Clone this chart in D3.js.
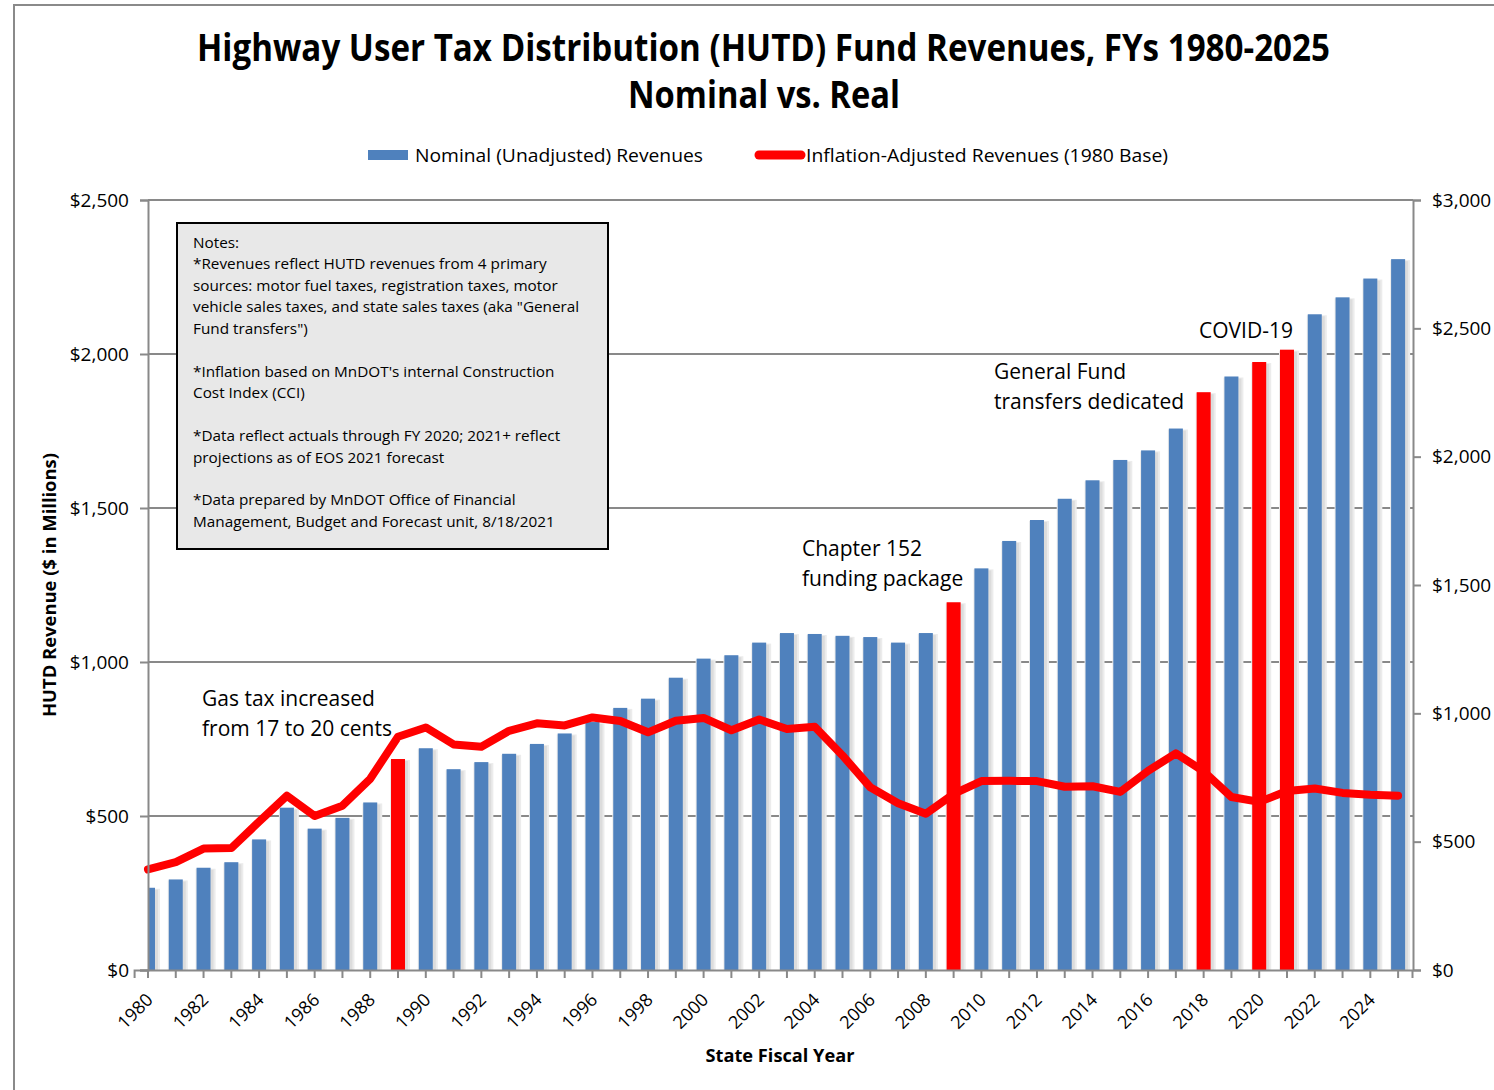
<!DOCTYPE html>
<html><head><meta charset="utf-8">
<script src="https://cdn.jsdelivr.net/npm/d3@7"></script>
<style>
html,body{margin:0;padding:0;background:#fff;}
text{font-family:"Open Sans",sans-serif;fill:#000;}
</style></head>
<body>
<svg id="c" width="1494" height="1090"></svg>
<script>
// ---------- data ----------
const years = [1980,1981,1982,1983,1984,1985,1986,1987,1988,1989,1990,1991,1992,1993,1994,1995,1996,1997,1998,1999,2000,2001,2002,2003,2004,2005,2006,2007,2008,2009,2010,2011,2012,2013,2014,2015,2016,2017,2018,2019,2020,2021,2022,2023,2024,2025];
const nominal = [267,294,332,350,424,527,459,494,544,685,720,652,675,702,734,768,805,851,881,949,1011,1022,1063,1094,1091,1085,1081,1063,1094,1194,1304,1393,1461,1530,1590,1656,1687,1758,1876,1927,1974,2014,2129,2184,2245,2308];
const realAdj = [392,420,473,475,578,679,600,640,745,909,945,879,870,932,961,953,984,970,926,971,982,934,976,939,948,836,712,650,609,686,736,737,736,714,716,694,776,844,774,674,655,697,707,690,683,679];
const highlightYears = [1989,2009,2018,2020,2021];
const leftTicks = [0,500,1000,1500,2000,2500];
const rightTicks = [0,500,1000,1500,2000,2500,3000];
const notesLines = [
  "Notes:",
  "*Revenues reflect HUTD revenues from 4 primary",
  "sources: motor fuel taxes, registration taxes, motor",
  "vehicle sales taxes, and state sales taxes (aka \"General",
  "Fund transfers\")",
  "",
  "*Inflation based on MnDOT's internal Construction",
  "Cost Index (CCI)",
  "",
  "*Data reflect actuals through FY 2020; 2021+ reflect",
  "projections as of EOS 2021 forecast",
  "",
  "*Data prepared by MnDOT Office of Financial",
  "Management, Budget and Forecast unit, 8/18/2021"
];
const annotations = [
  {lines:["Gas tax increased","from 17 to 20 cents"], x:202, y:706},
  {lines:["Chapter 152","funding package"], x:802, y:556},
  {lines:["General Fund","transfers dedicated"], x:994, y:379},
  {lines:["COVID-19"], x:1199, y:338}
];

// ---------- layout ----------
const svg = d3.select("#c");
const L = 148, R = 1413, T = 200, B = 970;
const GRID = "#898989";
const BLUE = "#4F81BD", RED = "#FF0000";

const x = d3.scaleBand().domain(years).range([L - 13.9, R - 1]).padding(0);
const cx = d => x(d) + x.bandwidth()/2;
const yL = d3.scaleLinear().domain([0,2500]).range([B,T]);
const yR = d3.scaleLinear().domain([0,3000]).range([B,T]);

// outer frame
svg.append("rect").attr("x",14).attr("y",5).attr("width",1600).attr("height",1200)
  .attr("fill","none").attr("stroke","#8a8a8a").attr("stroke-width",2);

// gridlines
svg.append("g").selectAll("line").data(leftTicks.filter(d=>d>0)).join("line")
  .attr("x1",L).attr("x2",R).attr("y1",d=>yL(d)).attr("y2",d=>yL(d))
  .attr("stroke",GRID).attr("stroke-width",2);

// clip
svg.append("clipPath").attr("id","plotclip").append("rect")
  .attr("x",L+1).attr("y",T-20).attr("width",R-L-1).attr("height",B-T+20);

const bw = 14;
const data = years.map((yr,i)=>({yr, nom:nominal[i], real:realAdj[i], hl: highlightYears.includes(yr)}));
const gBars = svg.append("g").attr("clip-path","url(#plotclip)");
gBars.selectAll("rect.sh").data(data).join("rect").attr("class","sh")
  .attr("x",d=>cx(d.yr)-bw/2-1).attr("width",bw+6)
  .attr("y",d=>yL(d.nom)+1).attr("height",d=>B-yL(d.nom)-1)
  .attr("fill","#ececec");
gBars.selectAll("rect.sh2").data(data).join("rect").attr("class","sh2")
  .attr("x",d=>cx(d.yr)+bw/2).attr("width",3)
  .attr("y",d=>yL(d.nom)+2).attr("height",d=>B-yL(d.nom)-2)
  .attr("fill","#dcdcdc");
gBars.selectAll("rect.bar").data(data).join("rect").attr("class","bar")
  .attr("x",d=>cx(d.yr)-bw/2).attr("width",bw)
  .attr("y",d=>yL(d.nom)).attr("height",d=>B-yL(d.nom))
  .attr("fill",d=>d.hl?RED:BLUE);

// line
const line = d3.line().x(d=>cx(d.yr)).y(d=>yR(d.real));
svg.append("path").datum(data).attr("d",line).attr("fill","none")
  .attr("stroke",RED).attr("stroke-width",8).attr("stroke-linejoin","round").attr("stroke-linecap","round");

// axes
const fmt = d=>"$"+d3.format(",")(d);
const axL = svg.append("g").attr("transform",`translate(${L},0)`)
  .call(d3.axisLeft(yL).tickValues(leftTicks).tickSize(8).tickPadding(11).tickFormat(fmt));
const axR = svg.append("g").attr("transform",`translate(${R},0)`)
  .call(d3.axisRight(yR).tickValues(rightTicks).tickSize(8).tickPadding(11).tickFormat(fmt));
const axB = svg.append("g").attr("transform",`translate(0,${B})`)
  .call(d3.axisBottom(x).tickSize(8).tickFormat(d => (d%2===0)? d : ""));
[axL,axR,axB].forEach(a=>{
  a.selectAll(".domain").attr("stroke",GRID).attr("stroke-width",2);
  a.selectAll(".tick line").attr("stroke",GRID).attr("stroke-width",2);
});
[axL,axR].forEach(a=>a.selectAll(".tick text").attr("font-size",19).attr("font-family","Open Sans").attr("fill","#000"));
axB.selectAll(".tick text").attr("font-size",18).attr("font-family","Open Sans").attr("fill","#000")
  .attr("text-anchor","end").attr("dy","0").attr("y",0).attr("x",0)
  .attr("transform","translate(6,31) rotate(-45)");

// axis titles
svg.append("text").attr("transform","translate(56,585) rotate(-90)").attr("text-anchor","middle")
  .attr("font-size",17).attr("font-weight","bold").attr("textLength",264).attr("lengthAdjust","spacingAndGlyphs")
  .text("HUTD Revenue ($ in Millions)");
svg.append("text").attr("x",780).attr("y",1062).attr("text-anchor","middle")
  .attr("font-size",17).attr("font-weight","bold").attr("textLength",149).attr("lengthAdjust","spacingAndGlyphs")
  .text("State Fiscal Year");

// title
svg.append("text").attr("x",197).attr("y",61).attr("font-size",37).attr("font-weight","bold")
  .attr("textLength",1133).attr("lengthAdjust","spacingAndGlyphs")
  .text("Highway User Tax Distribution (HUTD) Fund Revenues, FYs 1980-2025");
svg.append("text").attr("x",628).attr("y",108).attr("font-size",37).attr("font-weight","bold")
  .attr("textLength",272).attr("lengthAdjust","spacingAndGlyphs")
  .text("Nominal vs. Real");

// legend
svg.append("rect").attr("x",368).attr("y",150).attr("width",40).attr("height",10).attr("fill",BLUE);
svg.append("text").attr("x",415).attr("y",162).attr("font-size",18).attr("textLength",288).attr("lengthAdjust","spacingAndGlyphs")
  .text("Nominal (Unadjusted) Revenues");
svg.append("line").attr("x1",759).attr("x2",801).attr("y1",155).attr("y2",155)
  .attr("stroke",RED).attr("stroke-width",9).attr("stroke-linecap","round");
svg.append("text").attr("x",806).attr("y",162).attr("font-size",18).attr("textLength",362).attr("lengthAdjust","spacingAndGlyphs")
  .text("Inflation-Adjusted Revenues (1980 Base)");

// notes box
svg.append("rect").attr("x",177).attr("y",223).attr("width",431).attr("height",326)
  .attr("fill","#e8e8e8").attr("stroke","#000").attr("stroke-width",2);
notesLines.forEach((ln,i)=>{
  svg.append("text").attr("x",193).attr("y",248 + i*21.45).attr("font-size",15.3).text(ln);
});

// annotations
annotations.forEach(a=>{
  a.lines.forEach((ln,i)=>{
    svg.append("text").attr("x",a.x).attr("y",a.y + i*29.5).attr("font-size",21).text(ln);
  });
});
</script>
</body></html>
